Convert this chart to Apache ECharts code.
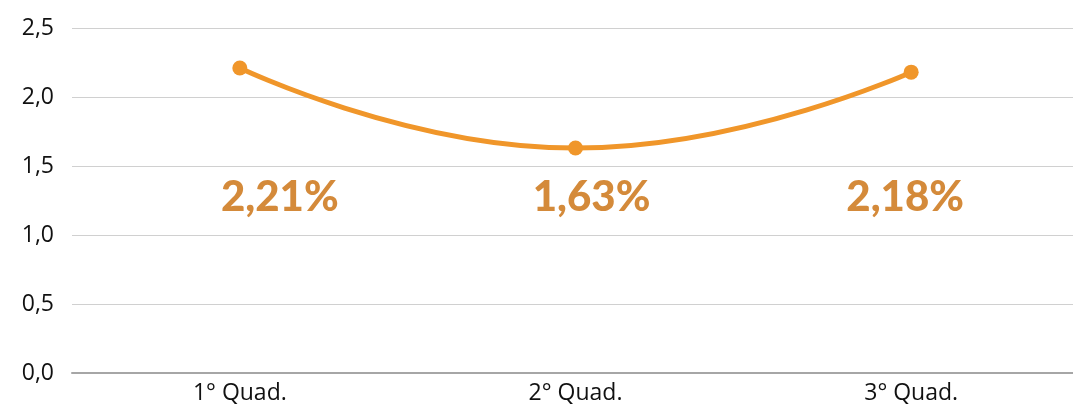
<!DOCTYPE html>
<html>
<head>
<meta charset="utf-8">
<script src="https://cdn.jsdelivr.net/npm/echarts@6/dist/echarts.min.js"></script>
<style>
html, body { margin: 0; padding: 0; background: #fff; }
#chart { width: 1073px; height: 416px; }
</style>
</head>
<body>
<div id="chart"></div>
<script>
// dados
const categories = ['1° Quad.', '2° Quad.', '3° Quad.'];
const values = [2.21, 1.63, 2.18];
const labelLevel = [1.29, 1.29, 1.29]; // altura onde ficam os rótulos grandes
const labelShiftX = [40, 16, -6];      // deslocamento horizontal dos rótulos (px)

const fmt = v => v.toFixed(1).replace('.', ',');

let chart = echarts.init(document.getElementById('chart'));
chart.setOption({
    animation: false,
    textStyle: { fontFamily: 'Open Sans' },
    grid: { left: 72, width: 1007, top: 28, bottom: 43, outerBoundsMode: 'none', containLabel: false },
    xAxis: {
        type: 'category',
        data: categories,
        axisTick: { show: false },
        axisLine: { lineStyle: { color: '#a6a6a6', width: 2 } },
        axisLabel: { color: '#111', fontSize: 23, margin: 9 }
    },
    yAxis: {
        type: 'value',
        min: 0,
        max: 2.5,
        interval: 0.5,
        axisLine: { show: false },
        axisTick: { show: false },
        splitLine: { lineStyle: { color: '#d0d0d0', width: 1 } },
        axisLabel: { color: '#111', fontSize: 23, margin: 18, formatter: fmt }
    },
    series: [
        {
            type: 'line',
            data: values,
            smooth: 0.5,
            symbol: 'circle',
            symbolSize: 15,
            lineStyle: { color: '#f0962a', width: 5 },
            itemStyle: { color: '#f0962a' },
            z: 3
        },
        {
            type: 'scatter',
            data: labelLevel.map((v, i) => ({ value: v, label: { offset: [labelShiftX[i], 2] } })),
            symbolSize: 2,
            itemStyle: { color: 'rgba(0,0,0,0)', opacity: 1 },
            silent: true,
            label: {
                show: true,
                position: 'inside',
                color: '#d48a3a',
                fontFamily: 'Lato',
                fontSize: 42,
                fontWeight: 900,
                formatter: p => values[p.dataIndex].toFixed(2).replace('.', ',') + '%'
            }
        }
    ]
});
</script>
</body>
</html>
